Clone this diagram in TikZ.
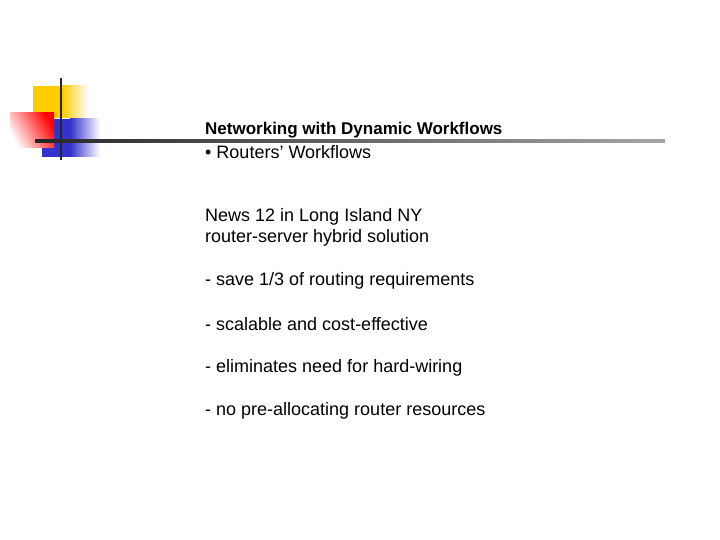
\documentclass[tikz,border=0pt]{standalone}
\usepackage{fontspec}
\setmainfont{Liberation Sans}
\begin{document}
\begin{tikzpicture}[x=1pt,y=-1pt,
  txt/.style={anchor=west,inner sep=0pt,font=\fontsize{18}{21}\selectfont}]
\useasboundingbox (0,0) rectangle (720,540);
\fill[white] (0,0) rectangle (720,540);
\definecolor{ylw}{RGB}{255,204,0}
\definecolor{blu}{RGB}{51,51,204}
% yellow
\fill[ylw] (33,86) rectangle (62,118);
\shade[left color=ylw,right color=white] (62,86) rectangle (88,118);
% blue
\fill[blu] (42,119) rectangle (70,157);
\shade[left color=blu,right color=white] (70,119) rectangle (100,157);
% red
\shade[left color=white,right color=red,shading angle=120] (10,113) rectangle (54,148);
% lines
\draw[line width=2.5pt,black!85] (61,78) -- (61,160);
\shade[left color=black!85,right color=black!35] (35,140) rectangle (665,142.5);
\node[txt,font=\fontsize{17}{21}\selectfont\bfseries] (t1) at (205,130) {Networking with Dynamic Workflows};
\node[txt] (t2) at (205,152) {• Routers' Workflows};
\node[txt] (t3) at (205,217) {News 12 in Long Island NY};
\node[txt] (t4) at (205,238) {router-server hybrid solution};
\node[txt] (t5) at (205,281) {- save 1/3 of routing requirements};
\node[txt] (t6) at (205,324) {- scalable and cost-effective};
\node[txt] (t7) at (205,368) {- eliminates need for hard-wiring};
\node[txt] (t8) at (205,411) {- no pre-allocating router resources};
\end{tikzpicture}
\end{document}
